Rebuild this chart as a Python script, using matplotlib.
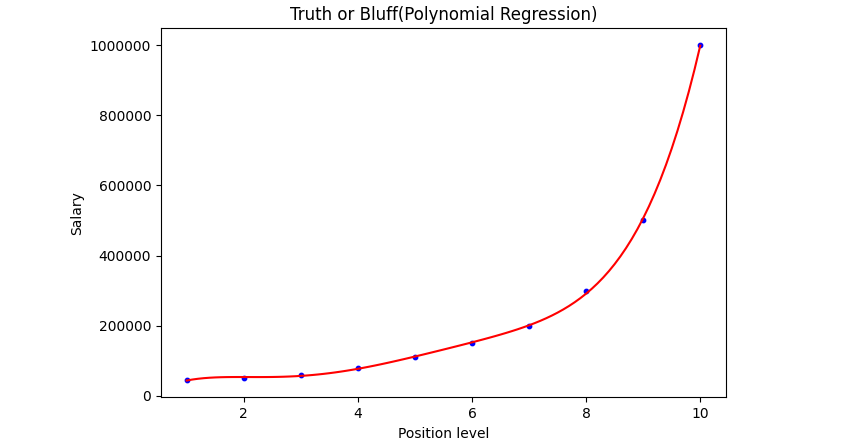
import numpy as np
import matplotlib
matplotlib.use("Agg")
import matplotlib.pyplot as plt

levels = [1, 2, 3, 4, 5, 6, 7, 8, 9, 10]
salaries = [45000, 50000, 60000, 80000, 110000, 150000, 200000, 300000, 500000, 1000000]
degree = 5

X = np.array(levels, dtype=float)
y = np.array(salaries, dtype=float)
coef = np.polyfit(X, y, degree)
X_grid = np.arange(min(X), max(X) + 0.01, 0.1)
y_grid = np.polyval(coef, X_grid)

fig = plt.figure(figsize=(8.45, 4.47), dpi=100)
ax = fig.add_axes([0.1905, 0.1112, 0.6686, 0.8255])
ax.scatter(X, y, color='blue', s=10, zorder=2)
ax.plot(X_grid, y_grid, color='red', lw=1.5, zorder=3)
ax.set_title('Truth or Bluff(Polynomial Regression)', fontsize=12)
ax.set_xlabel('Position level')
ax.set_ylabel('Salary')
ax.ticklabel_format(style='plain', axis='y', useOffset=False)
fig.savefig('out.png', dpi=100)
